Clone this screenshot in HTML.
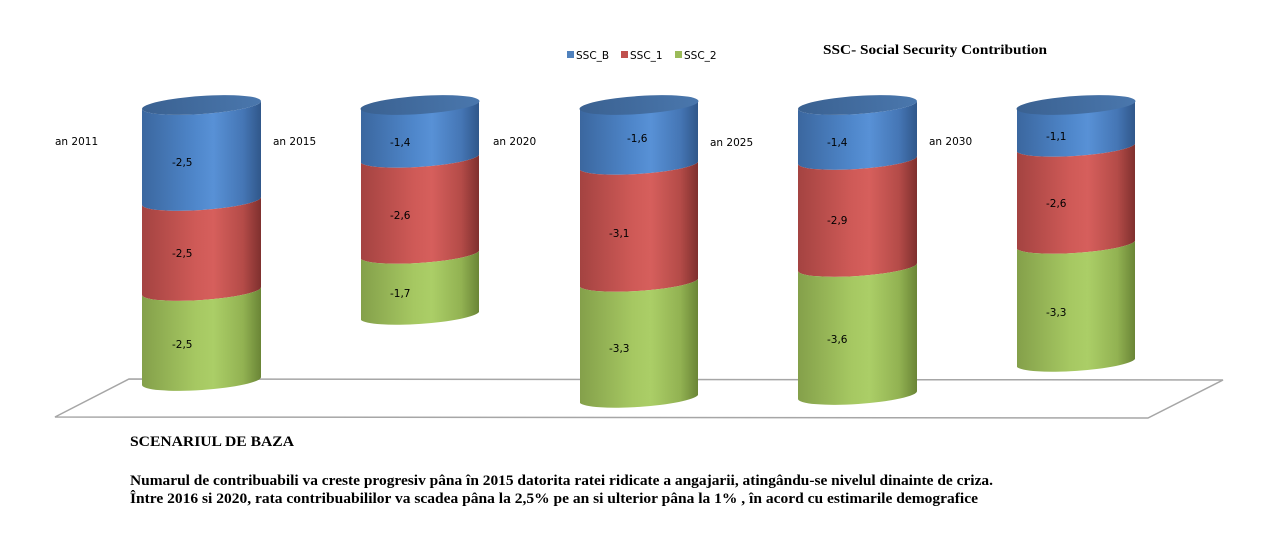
<!DOCTYPE html>
<html>
<head>
<meta charset="utf-8">
<style>
html,body{margin:0;padding:0;background:#fff;}
svg{display:block;}
.lbl{font-family:"DejaVu Sans","Liberation Sans",sans-serif;font-size:10.5px;fill:#000;}
.ser{font-family:"Liberation Serif",serif;font-weight:bold;fill:#000;}
</style>
</head>
<body>
<svg width="1280" height="543" viewBox="0 0 1280 543" xmlns="http://www.w3.org/2000/svg">
<defs>
<linearGradient id="gb" x1="0" y1="0" x2="1" y2="0">
<stop offset="0" stop-color="#3b679f"/>
<stop offset="0.45" stop-color="#4f87cb"/>
<stop offset="0.6" stop-color="#5891d6"/>
<stop offset="0.85" stop-color="#4576b5"/>
<stop offset="1" stop-color="#30578a"/>
</linearGradient>
<linearGradient id="gr" x1="0" y1="0" x2="1" y2="0">
<stop offset="0" stop-color="#a44341"/>
<stop offset="0.45" stop-color="#cf5a57"/>
<stop offset="0.6" stop-color="#d65f5c"/>
<stop offset="0.85" stop-color="#b44b48"/>
<stop offset="1" stop-color="#7f302e"/>
</linearGradient>
<linearGradient id="gg" x1="0" y1="0" x2="1" y2="0">
<stop offset="0" stop-color="#84a04a"/>
<stop offset="0.45" stop-color="#a6c862"/>
<stop offset="0.6" stop-color="#abce67"/>
<stop offset="0.85" stop-color="#92b252"/>
<stop offset="1" stop-color="#6a8536"/>
</linearGradient>
<linearGradient id="gt" x1="0" y1="0" x2="1" y2="0">
<stop offset="0" stop-color="#3a6191"/>
<stop offset="1" stop-color="#4a77ad"/>
</linearGradient>
</defs>

<!-- floor -->
<polygon points="129,379 1223,380 1148,418 55,417" fill="#fff" stroke="#a6a6a6" stroke-width="1.5"/>

<!-- Cylinder 1 -->
<path d="M142,109 A59.6 9 -3.85 0 0 261,101 L261,197 A59.6 9 -3.85 0 1 142,205 Z" fill="url(#gb)"/>
<path d="M142,205 A59.6 9 -3.85 0 0 261,197 L261,287 A59.6 9 -3.85 0 1 142,295 Z" fill="url(#gr)"/>
<path d="M142,295 A59.6 9 -3.85 0 0 261,287 L261,377 A59.6 9 -3.85 0 1 142,385 Z" fill="url(#gg)"/>
<ellipse cx="201.5" cy="105" rx="59.6" ry="9" transform="rotate(-3.85 201.5 105)" fill="url(#gt)"/>

<!-- Cylinder 2 -->
<path d="M361,109 A59.6 9 -3.85 0 0 479,101 L479,155 A59.6 9 -3.85 0 1 361,163 Z" fill="url(#gb)"/>
<path d="M361,163 A59.6 9 -3.85 0 0 479,155 L479,251 A59.6 9 -3.85 0 1 361,259 Z" fill="url(#gr)"/>
<path d="M361,259 A59.6 9 -3.85 0 0 479,251 L479,312 A59.6 9 -3.85 0 1 361,320 Z" fill="url(#gg)"/>
<ellipse cx="420" cy="105" rx="59.6" ry="9" transform="rotate(-3.85 420 105)" fill="url(#gt)"/>

<!-- Cylinder 3 -->
<path d="M580,109 A59.6 9 -3.85 0 0 698,101 L698,162 A59.6 9 -3.85 0 1 580,170 Z" fill="url(#gb)"/>
<path d="M580,170 A59.6 9 -3.85 0 0 698,162 L698,279 A59.6 9 -3.85 0 1 580,287 Z" fill="url(#gr)"/>
<path d="M580,287 A59.6 9 -3.85 0 0 698,279 L698,395 A59.6 9 -3.85 0 1 580,403 Z" fill="url(#gg)"/>
<ellipse cx="639" cy="105" rx="59.6" ry="9" transform="rotate(-3.85 639 105)" fill="url(#gt)"/>

<!-- Cylinder 4 -->
<path d="M798,109 A59.6 9 -3.85 0 0 917,101 L917,156 A59.6 9 -3.85 0 1 798,164 Z" fill="url(#gb)"/>
<path d="M798,164 A59.6 9 -3.85 0 0 917,156 L917,263 A59.6 9 -3.85 0 1 798,271 Z" fill="url(#gr)"/>
<path d="M798,271 A59.6 9 -3.85 0 0 917,263 L917,391 A59.6 9 -3.85 0 1 798,399 Z" fill="url(#gg)"/>
<ellipse cx="857.5" cy="105" rx="59.6" ry="9" transform="rotate(-3.85 857.5 105)" fill="url(#gt)"/>

<!-- Cylinder 5 -->
<path d="M1017,109 A59.6 9 -3.85 0 0 1135,101 L1135,144 A59.6 9 -3.85 0 1 1017,152 Z" fill="url(#gb)"/>
<path d="M1017,152 A59.6 9 -3.85 0 0 1135,144 L1135,241 A59.6 9 -3.85 0 1 1017,249 Z" fill="url(#gr)"/>
<path d="M1017,249 A59.6 9 -3.85 0 0 1135,241 L1135,359 A59.6 9 -3.85 0 1 1017,367 Z" fill="url(#gg)"/>
<ellipse cx="1076" cy="105" rx="59.6" ry="9" transform="rotate(-3.85 1076 105)" fill="url(#gt)"/>

<!-- data labels -->
<text class="lbl" x="172" y="166">-2,5</text>
<text class="lbl" x="172" y="257">-2,5</text>
<text class="lbl" x="172" y="348">-2,5</text>

<text class="lbl" x="390" y="146">-1,4</text>
<text class="lbl" x="390" y="219">-2,6</text>
<text class="lbl" x="390" y="297">-1,7</text>

<text class="lbl" x="627" y="142">-1,6</text>
<text class="lbl" x="609" y="237">-3,1</text>
<text class="lbl" x="609" y="352">-3,3</text>

<text class="lbl" x="827" y="146">-1,4</text>
<text class="lbl" x="827" y="224">-2,9</text>
<text class="lbl" x="827" y="343">-3,6</text>

<text class="lbl" x="1046" y="140">-1,1</text>
<text class="lbl" x="1046" y="207">-2,6</text>
<text class="lbl" x="1046" y="316">-3,3</text>

<!-- year labels -->
<text class="lbl" x="55" y="145">an 2011</text>
<text class="lbl" x="273" y="145">an 2015</text>
<text class="lbl" x="493" y="145">an 2020</text>
<text class="lbl" x="710" y="146">an 2025</text>
<text class="lbl" x="929" y="145">an 2030</text>

<!-- legend -->
<rect x="567" y="51" width="7" height="7" fill="#4f81bd"/>
<text class="lbl" x="576" y="59" font-size="10.5">SSC_B</text>
<rect x="621" y="51" width="7" height="7" fill="#c0504d"/>
<text class="lbl" x="630" y="59">SSC_1</text>
<rect x="675" y="51" width="7" height="7" fill="#9bbb59"/>
<text class="lbl" x="684" y="59">SSC_2</text>

<text class="ser" x="823" y="54" font-size="14" textLength="224" lengthAdjust="spacingAndGlyphs">SSC- Social Security Contribution</text>

<!-- bottom text -->
<text class="ser" x="130" y="446" font-size="15" textLength="164" lengthAdjust="spacingAndGlyphs">SCENARIUL DE BAZA</text>
<text class="ser" x="130" y="485" font-size="15" textLength="863" lengthAdjust="spacingAndGlyphs">Numarul de contribuabili va creste  progresiv pâna în 2015 datorita ratei ridicate a angajarii, atingându-se nivelul dinainte de criza.</text>
<text class="ser" x="130" y="503" font-size="15" textLength="848" lengthAdjust="spacingAndGlyphs">Între 2016 si 2020, rata contribuabililor va scadea pâna la 2,5% pe an si ulterior pâna la 1% , în acord cu estimarile demografice</text>
</svg>
</body>
</html>
